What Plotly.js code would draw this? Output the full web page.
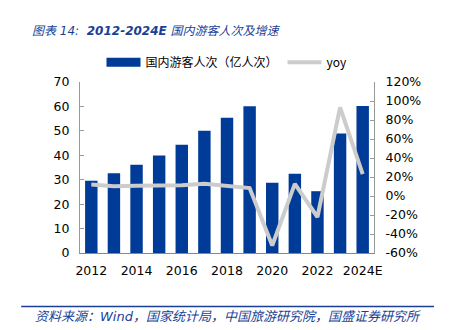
<!DOCTYPE html>
<html><head><meta charset="utf-8">
<script src="https://cdn.plot.ly/plotly-3.0.1.min.js"></script>
<style>html,body{margin:0;padding:0;background:#fff}#chart{width:453px;height:330px}</style>
</head><body><div id="chart"></div>
<script>
const years = ['2012','2013','2014','2015','2016','2017','2018','2019','2020','2021','2022','2023','2024E'];
const tourists = [29.57, 32.62, 36.11, 39.90, 44.35, 50.01, 55.39, 60.06, 28.79, 32.46, 25.30, 48.91, 60.20];
const yoy = [12.0, 10.3, 10.7, 10.5, 11.2, 12.8, 10.8, 8.4, -52.1, 12.8, -22.1, 93.3, 23.1];
const xTicks = ['2012','2014','2016','2018','2020','2022','2024E'];
const leftTicks = [0,10,20,30,40,50,60,70];
const rightTicks = [-60,-40,-20,0,20,40,60,80,100,120];
const barName = '国内游客人次（亿人次）';
const lineName = 'yoy';

const tickFont = {family:'DejaVu Sans, Verdana, sans-serif', size:12.5, color:'#000'};
const data = [
  {type:'bar', x:years, y:tourists, name:barName, marker:{color:'#003b98'}, width:0.55, yaxis:'y', showlegend:false},
  {type:'scatter', mode:'lines', x:[null], y:[null], name:barName, line:{color:'#003b98', width:9}, yaxis:'y', hoverinfo:'skip'},
  {type:'scatter', mode:'lines', x:years, y:yoy, name:lineName, line:{color:'#cccccc', width:4}, yaxis:'y2'}
];
const layout = {
  width:453, height:330,
  margin:{l:80, r:79, t:82, b:77},
  paper_bgcolor:'#fff', plot_bgcolor:'#fff',
  showlegend:true,
  legend:{orientation:'h', x:0.5, xanchor:'center', y:1.03, yanchor:'bottom',
    font:{family:'Noto Sans CJK SC, DejaVu Sans', size:12, color:'#000'}, itemwidth:34, tracegroupgap:0},
  xaxis:{type:'category', categoryarray:years, tickvals:xTicks, ticktext:xTicks, tickfont:tickFont, ticklabelstandoff:6, showline:true, linecolor:'#888', linewidth:1, ticks:'', showgrid:false, zeroline:false},
  yaxis:{range:[0,70], tickvals:leftTicks, tickfont:tickFont, ticklabelstandoff:7, showline:true, linecolor:'#999', linewidth:1, ticks:'inside', ticklen:4, tickcolor:'#999', showgrid:false, zeroline:false},
  yaxis2:{overlaying:'y', side:'right', range:[-60,120], tickvals:rightTicks, ticktext:rightTicks.map(v=>v+'%'), tickfont:tickFont, ticklabelstandoff:8, showline:true, linecolor:'#999', linewidth:1, ticks:'inside', ticklen:4, tickcolor:'#999', showgrid:false, zeroline:false},
  annotations:[
    {xref:'paper', yref:'paper', x:-0.169, y:1.30, xanchor:'left', yanchor:'middle', showarrow:false,
     text:'<i>图表 14:  <b>2012-2024E</b> 国内游客人次及增速</i>', font:{family:'DejaVu Sans, Noto Sans CJK SC', size:12, color:'#1a3f95'}},
    {xref:'paper', yref:'paper', x:-0.159, y:-0.37, xanchor:'left', yanchor:'middle', showarrow:false,
     text:'<i>资料来源：Wind，国家统计局，中国旅游研究院，国盛证券研究所</i>', font:{family:'DejaVu Sans, Noto Sans CJK SC', size:13, color:'#1a3f95'}}
  ],
  shapes:[
    {type:'line', xref:'paper', yref:'paper', x0:-0.20, x1:1.204, y0:-0.313, y1:-0.313, line:{color:'#1a3f95', width:1.5}}
  ]
};
Plotly.newPlot('chart', data, layout, {displayModeBar:false, staticPlot:true});
</script></body></html>
